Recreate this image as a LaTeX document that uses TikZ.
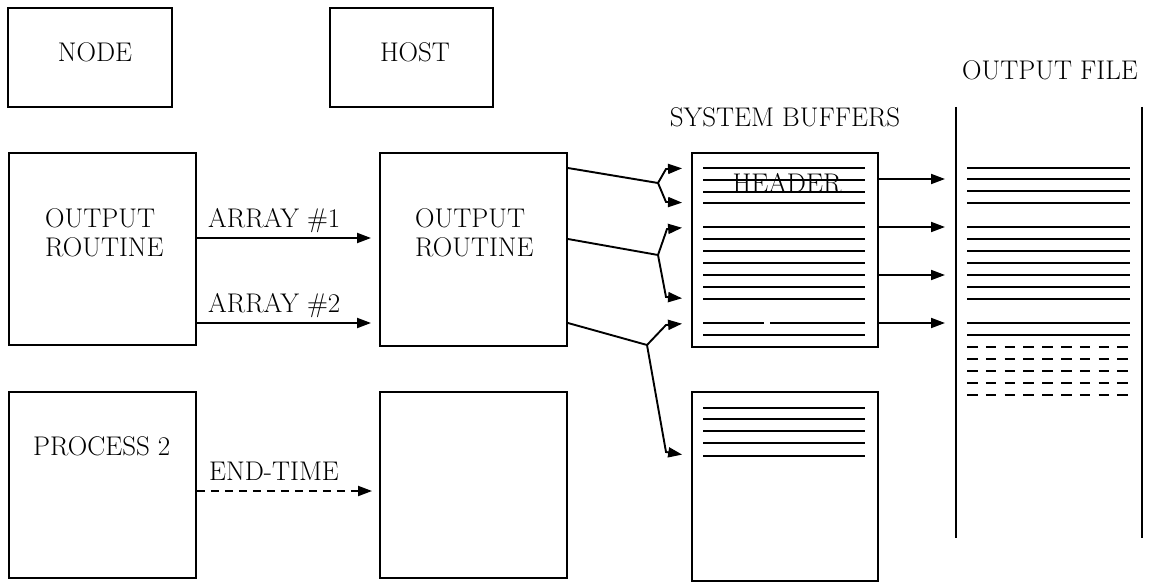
\documentclass[tikz,border=0pt]{standalone}
\usetikzlibrary{arrows.meta}
\begin{document}
\begin{tikzpicture}[x=1pt,y=-1pt,
  box/.style={draw, line width=1.9pt, rectangle, inner sep=0pt},
  txt/.style={font=\fontsize{27}{30}\selectfont, inner sep=0pt, anchor=base west},
  ctxt/.style={font=\fontsize{27}{30}\selectfont, inner sep=0pt, anchor=base},
  arr/.style={line width=1.9pt, -{Triangle[length=14pt,width=10pt]}},
  plain/.style={line width=1.9pt},
  rulel/.style={line width=2.8pt},
  dashrule/.style={line width=2.8pt, dash pattern=on 10.5pt off 8.3pt},
  fileline/.style={line width=2.4pt}]
\useasboundingbox (0,0) rectangle (1161,585);

% boxes
\node[box, minimum width=164, minimum height=99] (nodeb) at (90,57.5) {};
\node[box, minimum width=163, minimum height=99] (hostb) at (411.5,57.5) {};
\node[box, minimum width=187, minimum height=192] (nout) at (102.5,249) {};
\node[box, minimum width=187, minimum height=186] (nproc) at (102.5,485) {};
\node[box, minimum width=187, minimum height=193] (hout) at (473.5,249.5) {};
\node[box, minimum width=187, minimum height=186] (hproc) at (473.5,485) {};
\node[box, minimum width=186, minimum height=194] (buf1) at (785,250) {};
\node[box, minimum width=186, minimum height=189] (buf2) at (785,486.5) {};

% texts
\node[ctxt] (tnode) at (95,62) {NODE};
\node[ctxt] (thost) at (415,62) {HOST};
\node[txt] (tno1) at (45,228) {OUTPUT};
\node[txt] (tno2) at (45,257) {ROUTINE};
\node[txt] (tho1) at (415,228) {OUTPUT};
\node[txt] (tho2) at (415,257) {ROUTINE};
\node[txt] (tproc) at (33,455) {PROCESS 2};
\node[ctxt] (tsys) at (785,127) {SYSTEM BUFFERS};
\node[ctxt] (tfile) at (1050,80) {OUTPUT FILE};
\node[ctxt] (thead) at (787,193) {HEADER};

% buffer 1 lines
\foreach \y in {168,180,192,203,227,239,251,263,275,287,299,335}
  \draw[rulel] (703,\y) -- (865,\y);
\draw[rulel] (703,323) -- (764,323);
\draw[rulel] (770,323) -- (865,323);
% buffer 2 lines
\foreach \y in {408,419,431,443,456}
  \draw[rulel] (703,\y) -- (865,\y);

% output file
\coordinate (fileL) at (956,107);
\coordinate (fileR) at (1142,107);
\draw[fileline] (fileL) -- (fileL |- 0,538);
\draw[fileline] (fileR) -- (fileR |- 0,538);
\foreach \y in {168,179,191,203,227,239,251,263,275,287,299,323,335}
  \draw[rulel] (967,\y) -- (1130,\y);
\foreach \y in {347,359,371,383,395}
  \draw[dashrule] (967,\y) -- (1130,\y);

% node -> host arrows
\draw[arr, shorten >=8pt] (nout.east |- 0,238) -- (hout.west |- 0,238);
\draw[arr, shorten >=8pt] (nout.east |- 0,323) -- (hout.west |- 0,323);
\draw[arr, shorten >=7pt, dash pattern=on 8pt off 6pt] (nproc.east |- 0,491) -- (hproc.west |- 0,491);
\node[txt] (la1) at (208,228) {ARRAY \#1};
\node[txt] (la2) at (208,312) {ARRAY \#2};
\node[txt] (la3) at (209,480) {END-TIME};

% forks host -> buffers
\coordinate (j1) at (658,183);
\coordinate (j2) at (658,255);
\coordinate (j3) at (647,345);
\draw[plain] (hout.east |- 0,168) -- (j1);
\draw[arr, shorten >=9pt] (j1) -- (666,169) -- (buf1.west |- 0,168);
\draw[arr, shorten >=9pt] (j1) -- (666,202) -- (buf1.west |- 0,203);
\draw[plain] (hout.east |- 0,239) -- (j2);
\draw[arr, shorten >=9pt] (j2) -- (667,229) -- (buf1.west |- 0,227);
\draw[arr, shorten >=9pt] (j2) -- (666,297) -- (buf1.west |- 0,299);
\draw[plain] (hout.east |- 0,323) -- (j3);
\draw[arr, shorten >=9pt] (j3) -- (666,325) -- (buf1.west |- 0,323);
\draw[arr, shorten >=9pt] (j3) -- (666,452) -- (buf2.west |- 0,456);

% buffer -> file arrows
\foreach \y in {179,227,275,323}
  \draw[arr, shorten >=11pt] (buf1.east |- 0,\y) -- (fileL |- 0,\y);
\end{tikzpicture}
\end{document}
